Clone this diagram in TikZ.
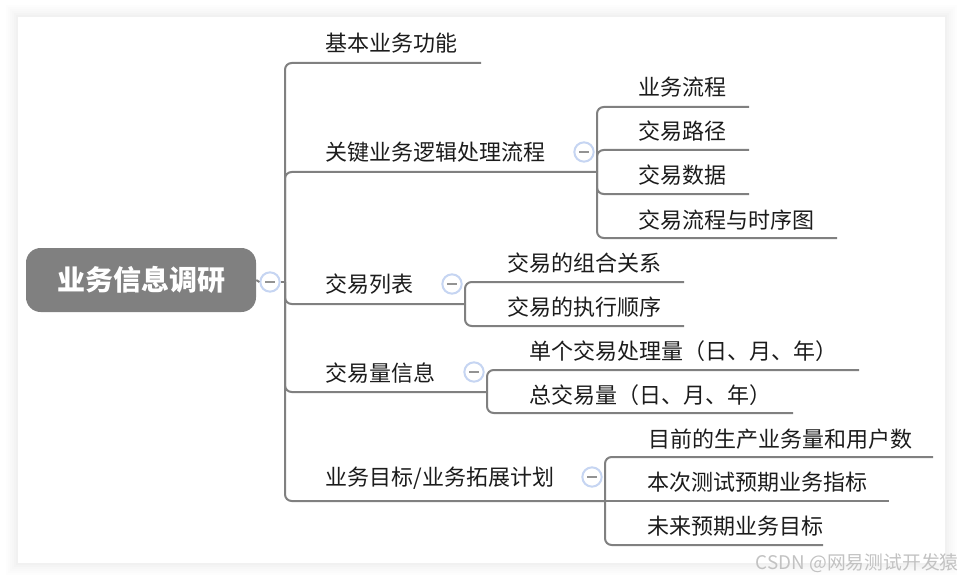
\documentclass[tikz,border=0pt]{standalone}
\usepackage{fontspec}
\setmainfont{Noto Sans CJK SC}
\definecolor{linec}{HTML}{808080}
\definecolor{ringc}{HTML}{C6D5F2}
\definecolor{inkc}{HTML}{1C1C1C}
\definecolor{markc}{HTML}{C2C2C2}
\tikzset{
  x=0.75pt,y=-0.75pt,
  lab/.style={anchor=base west,inner sep=0pt,text=inkc,font=\fontsize{16.5pt}{18pt}\selectfont},
  conn/.style={draw=linec,line width=1.5pt,rounded corners=5pt},
  tog/.style={circle,draw=ringc,line width=1.5pt,fill=white,minimum size=14.5pt,inner sep=0pt},
  rootbox/.style={rounded corners=11pt,fill=linec,draw=none,minimum width=172.5pt,minimum height=48pt,inner sep=0pt,text=white,font=\fontsize{21pt}{24pt}\selectfont\bfseries}
}
\newcommand{\togdash}[1]{\draw[linec!85,line width=1.2pt] ([xshift=-3.5pt]#1.center) -- ([xshift=3.5pt]#1.center);}
\begin{document}
\begin{tikzpicture}
\useasboundingbox (0,0) rectangle (963,581);
\fill[white] (0,0) rectangle (963,581);
% soft card shadow
\foreach \d/\o in {12/0.006,10/0.007,8/0.008,6/0.009,4/0.01,2/0.012}{
  \fill[black,opacity=\o] (18-\d,17-\d) rectangle (945+\d,563+\d);
}
\fill[white] (18,17) rectangle (945,563);

% root
\node[rootbox] (root) at (141,280) {\raisebox{-0.7pt}{业务信息调研}};
\node[tog] (t0) at (270,282) {};
\coordinate (f0) at (285,282);

% fork points
\coordinate (f2) at (597,172);
\coordinate (f3) at (465,304);
\coordinate (f4) at (487,392);
\coordinate (f5) at (605,501);

% line ends
\coordinate (e1) at (481,63);
\coordinate (e21) at (749,107);
\coordinate (e22) at (749,150);
\coordinate (e23) at (749,194);
\coordinate (e24) at (837,238);
\coordinate (e31) at (684,282);
\coordinate (e32) at (684,326);
\coordinate (e41) at (859,370);
\coordinate (e42) at (793,413);
\coordinate (e51) at (933,457);
\coordinate (e52) at (889,501);
\coordinate (e53) at (823,545);

% connectors
\draw[conn] (root.east) -- (t0.west);
\draw[conn] (t0.east) -- (f0);
\draw[conn] (f0) |- (e1);
\draw[conn] (f0) |- (f2);
\draw[conn] (f0) |- (f3);
\draw[conn] (f0) |- (f4);
\draw[conn] (f0) |- (f5);
\draw[conn] (f2) |- (e21);
\draw[conn] (f2) |- (e22);
\draw[conn] (f2) |- (e23);
\draw[conn] (f2) |- (e24);
\draw[conn] (f3) |- (e31);
\draw[conn] (f3) |- (e32);
\draw[conn] (f4) |- (e41);
\draw[conn] (f4) |- (e42);
\draw[conn] (f5) |- (e51);
\draw[conn] (f5) -- (e52);
\draw[conn] (f5) |- (e53);

% toggles
\node[tog] (t2) at (584,152) {};
\node[tog] (t3) at (452,284) {};
\node[tog] (t4) at (474,372) {};
\node[tog] (t5) at (592,477) {};
\togdash{t0}\togdash{t2}\togdash{t3}\togdash{t4}\togdash{t5}

% labels
\node[lab] (a1) at (325.5,52) {基本业务功能};
\node[lab] (a2) at (325.5,161) {关键业务逻辑处理流程};
\node[lab] (a3) at (325.5,292) {交易列表};
\node[lab] (a4) at (325.5,381) {交易量信息};
\node[lab] (a5) at (325.5,485) {业务目标/业务拓展计划};
\node[lab] (b1) at (638.5,96) {业务流程};
\node[lab] (b2) at (638.5,140) {交易路径};
\node[lab] (b3) at (638.5,184) {交易数据};
\node[lab] (b4) at (638.5,228) {交易流程与时序图};
\node[lab] (c1) at (507,271) {交易的组合关系};
\node[lab] (c2) at (507,315) {交易的执行顺序};
\node[lab] (d1) at (529,359) {单个交易处理量（日、月、年）};
\node[lab] (d2) at (529,403) {总交易量（日、月、年）};
\node[lab] (g1) at (648,447) {目前的生产业务量和用户数};
\node[lab] (g2) at (647,490) {本次测试预期业务指标};
\node[lab] (g3) at (647,534) {未来预期业务目标};

% watermark
\node[anchor=base east,inner sep=0pt,text=markc,font=\fontsize{14.1pt}{16pt}\selectfont] (wm) at (959,569) {CSDN @网易测试开发猿};
\end{tikzpicture}
\end{document}
